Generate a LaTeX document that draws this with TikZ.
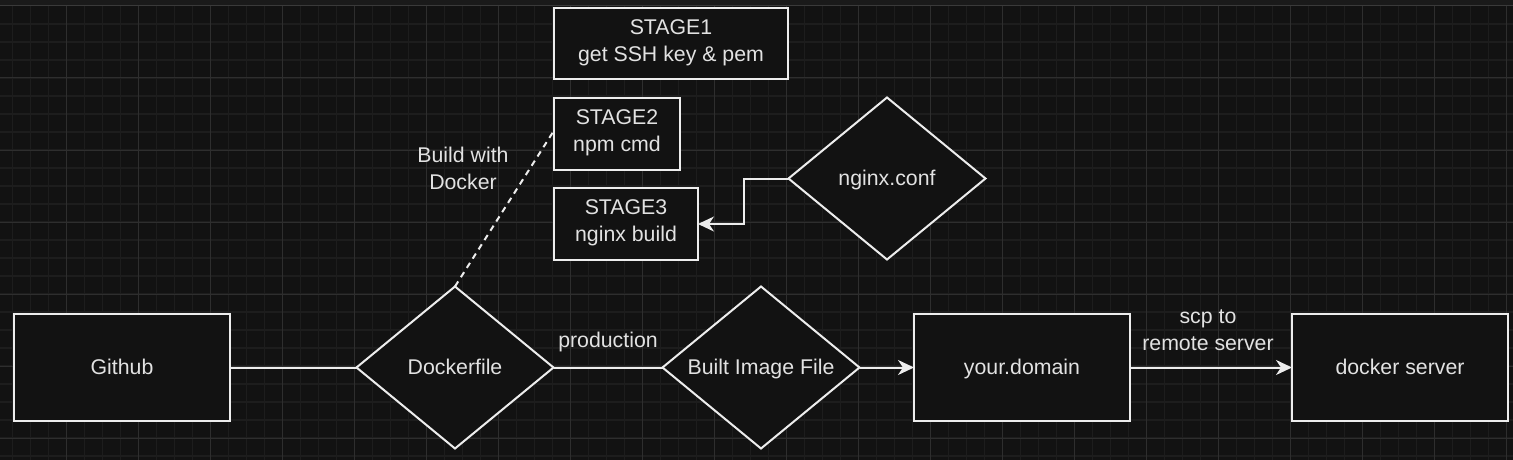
\documentclass[tikz,border=0pt]{standalone}
\usepackage{fontspec}
\setmainfont{Liberation Sans}
\usetikzlibrary{shapes.geometric,arrows.meta}
\definecolor{bgc}{HTML}{121212}
\definecolor{minorc}{HTML}{1D1D1D}
\definecolor{majorc}{HTML}{2E2E2E}
\definecolor{barc}{HTML}{1A1A1A}
\definecolor{barline}{HTML}{3A3A3A}
\definecolor{linec}{HTML}{EDEDED}
\definecolor{textc}{HTML}{E2E2E2}
\newcommand\mystrut{\rule[-6.1pt]{0pt}{27pt}}
\begin{document}
\begin{tikzpicture}[x=1pt,y=-1pt,
  every node/.style={font=\fontsize{21.3}{27}\selectfont, text=textc,
    execute at begin node=\mystrut, execute at end node=\mystrut},
  box/.style={draw=linec, line width=2pt, fill=bgc, rectangle, inner sep=0pt, outer sep=0pt, align=center},
  dia/.style={draw=linec, line width=2pt, fill=bgc, diamond, shape aspect=1.22, inner sep=0pt, outer sep=0pt,
    minimum width=197pt, minimum height=162pt, align=center},
  conn/.style={draw=linec, line width=2pt},
  arr/.style={conn, -{Stealth[length=16pt,width=15pt,inset=5pt]}},
  dashconn/.style={draw=linec, line width=2pt, dash pattern=on 6pt off 5pt},
  lbl/.style={align=center, inner sep=0pt}]
\useasboundingbox (0,0) rectangle (1513,460);
% background and grid
\fill[bgc] (0,0) rectangle (1513,460);
\foreach \x in {12.5,30.5,...,1512} \draw[minorc, line width=1.5pt] (\x,6) -- (\x,460);
\foreach \y in {24,42,...,460} \draw[minorc, line width=1.5pt] (0,\y) -- (1513,\y);
\foreach \x in {66.5,138.5,...,1512} \draw[majorc, line width=1pt] (\x,6) -- (\x,460);
\foreach \y in {78,150,...,460} \draw[majorc, line width=1pt] (0,\y) -- (1513,\y);
\fill[barc] (0,0) rectangle (1513,5.5);
\draw[barline, line width=1pt] (0,5.5) -- (1513,5.5);
% nodes
\node[box, minimum width=234pt, minimum height=71pt] (s1) at (671,43.5) {STAGE1\\get SSH key \& pem};
\node[box, minimum width=126pt, minimum height=72pt] (s2) at (617,133.5) {STAGE2\\npm cmd};
\node[box, minimum width=144pt, minimum height=72pt] (s3) at (626,224) {STAGE3\\nginx build};
\node[dia] (ng) at (887,178.5) {nginx.conf};
\node[box, minimum width=216pt, minimum height=107pt] (gh) at (122,367.5) {Github};
\node[dia] (df) at (455,367.5) {Dockerfile};
\node[dia] (bi) at (761,367.5) {Built Image File};
\node[box, minimum width=216pt, minimum height=107pt] (yd) at (1022,367.5) {your.domain};
\node[box, minimum width=216pt, minimum height=107pt] (ds) at (1400,367.5) {docker server};
% labels
\node[lbl] (lprod) at (608,340.5) {production};
\node[lbl] (lbuild) at (463,171.1) {Build with\\Docker};
\node[lbl] (lscp) at (1208,333.5) {scp to\\remote server};
% connectors
\draw[conn] (gh.east) -- (df.west);
\draw[conn] (df.east) -- (bi.west);
\draw[arr] (bi.east) -- (yd.west);
\draw[arr] (yd.east) -- (ds.west);
\draw[arr] (ng.west) -- ++(-45,0) |- (s3.east);
\draw[dashconn] (df.north) -- ([yshift=3pt]s2.west);
\end{tikzpicture}
\end{document}
